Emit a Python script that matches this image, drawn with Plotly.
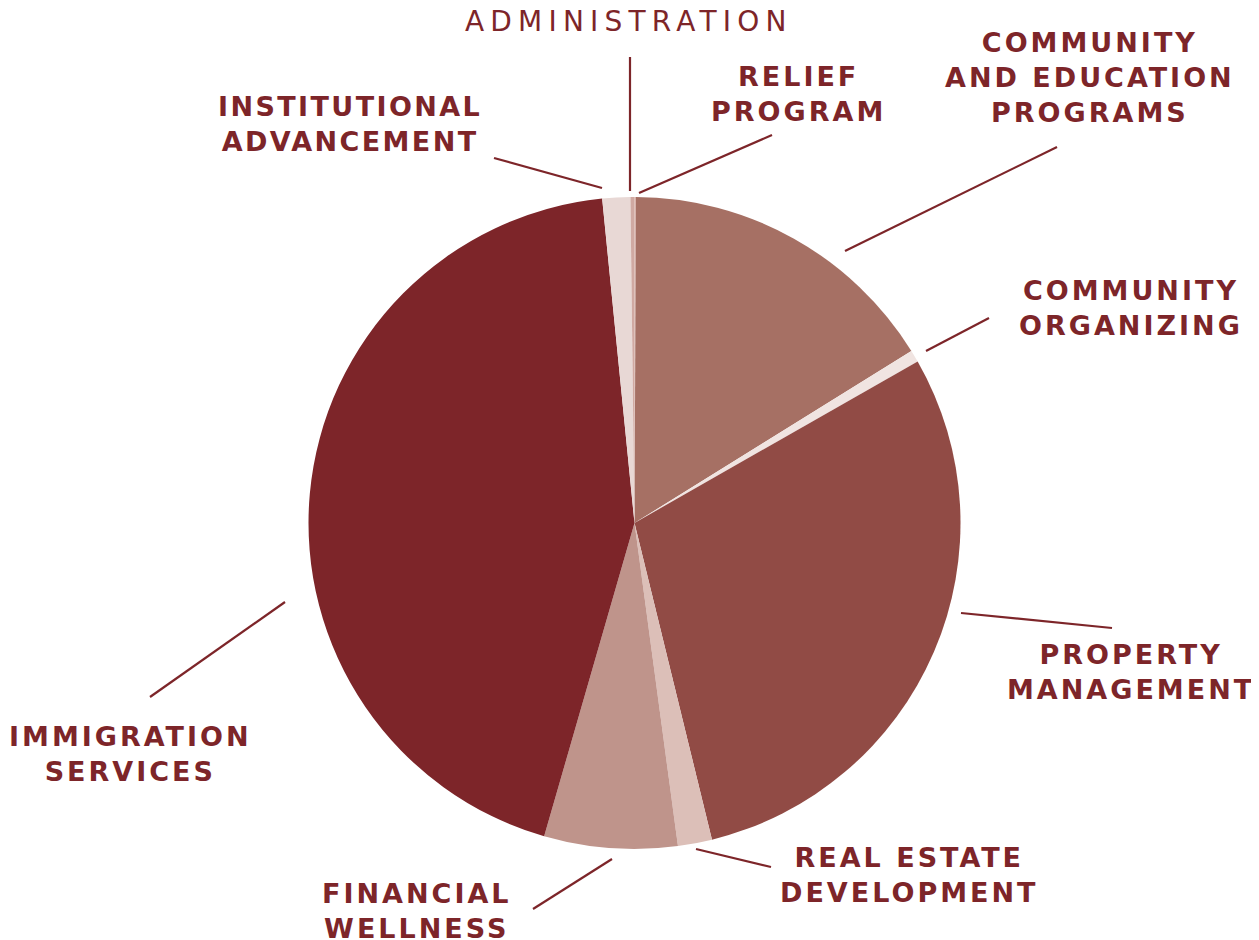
import plotly.graph_objects as go

# ---- data (percent of total) ----
categories = [
    "Relief Program",
    "Community and Education Programs",
    "Community Organizing",
    "Property Management",
    "Real Estate Development",
    "Financial Wellness",
    "Immigration Services",
    "Institutional Advancement",
    "Administration",
]
shares = [0.07, 16.06, 0.60, 29.40, 1.69, 6.59, 43.90, 1.38, 0.20]
slice_colors = [
    "#D9B3AC", "#A67064", "#F0E4E1", "#914B45", "#DCBFB8",
    "#BF948B", "#7D2529", "#E8D8D5", "#D0A9A2",
]

W, H = 1259, 940
OFF = 8  # page body margin
DARK = "#7D2529"

CX, CY, R = 634.5 - OFF, 523 - OFF, 326

fig = go.Figure(go.Pie(
    labels=categories,
    values=shares,
    sort=False,
    direction="clockwise",
    rotation=0,
    marker=dict(colors=slice_colors, line=dict(width=0)),
    textinfo="none",
    hoverinfo="label+percent",
    showlegend=False,
    domain=dict(x=[(CX - R) / W, (CX + R) / W],
                y=[(H - CY - R) / H, (H - CY + R) / H]),
))

def px(x, y):
    return (x - OFF) / W, 1 - (y - OFF) / H

# leader lines (pixel positions -> paper)
leaders = [
    ((630, 57), (630, 191)),        # Administration
    ((639, 193), (772, 135)),       # Relief
    ((494, 158), (602, 188)),       # Institutional
    ((845, 251), (1057, 147)),      # Community & Education
    ((926, 351), (989, 318)),       # Community Organizing
    ((961, 613), (1112, 628)),      # Property Management
    ((696, 849), (771, 867)),       # Real Estate
    ((533, 909), (612, 859)),       # Financial Wellness
    ((150, 697), (285, 602)),       # Immigration
]
shapes = []
for (a, b) in leaders:
    x0, y0 = px(*a)
    x1, y1 = px(*b)
    shapes.append(dict(type="line", xref="paper", yref="paper",
                       x0=x0, y0=y0, x1=x1, y1=y1,
                       line=dict(color=DARK, width=2.2)))

def spaced(lines, ls):
    return "<br>".join(f'<span style="letter-spacing:{ls}px">{t}</span>' for t in lines)

label_items = [
    (["ADMINISTRATION"], (629, 22), "normal", 6.2, 28),
    (["RELIEF", "PROGRAM"], (798, 94), "bold", 3, 27),
    (["COMMUNITY", "AND EDUCATION", "PROGRAMS"], (1090, 77), "bold", 3, 27),
    (["COMMUNITY", "ORGANIZING"], (1131, 308), "bold", 3, 27),
    (["PROPERTY", "MANAGEMENT"], (1131, 672), "bold", 3, 27),
    (["REAL ESTATE", "DEVELOPMENT"], (909, 875), "bold", 3, 27),
    (["FINANCIAL", "WELLNESS"], (417, 911), "bold", 3, 27),
    (["IMMIGRATION", "SERVICES"], (130, 754), "bold", 3, 27),
    (["INSTITUTIONAL", "ADVANCEMENT"], (350, 124), "bold", 2.4, 27),
]
annotations = []
for lines, (x, y), weight, ls, size in label_items:
    ax, ay = px(x, y)
    annotations.append(dict(
        text=spaced(lines, ls), x=ax, y=ay, xref="paper", yref="paper",
        xanchor="center", yanchor="middle", showarrow=False, align="center",
        font=dict(family="DejaVu Sans", size=size, color=DARK, weight=weight),
    ))

fig.update_layout(
    width=W, height=H,
    margin=dict(l=0, r=0, t=0, b=0),
    paper_bgcolor="white", plot_bgcolor="white",
    shapes=shapes, annotations=annotations,
)

fig.write_html("out.html")
